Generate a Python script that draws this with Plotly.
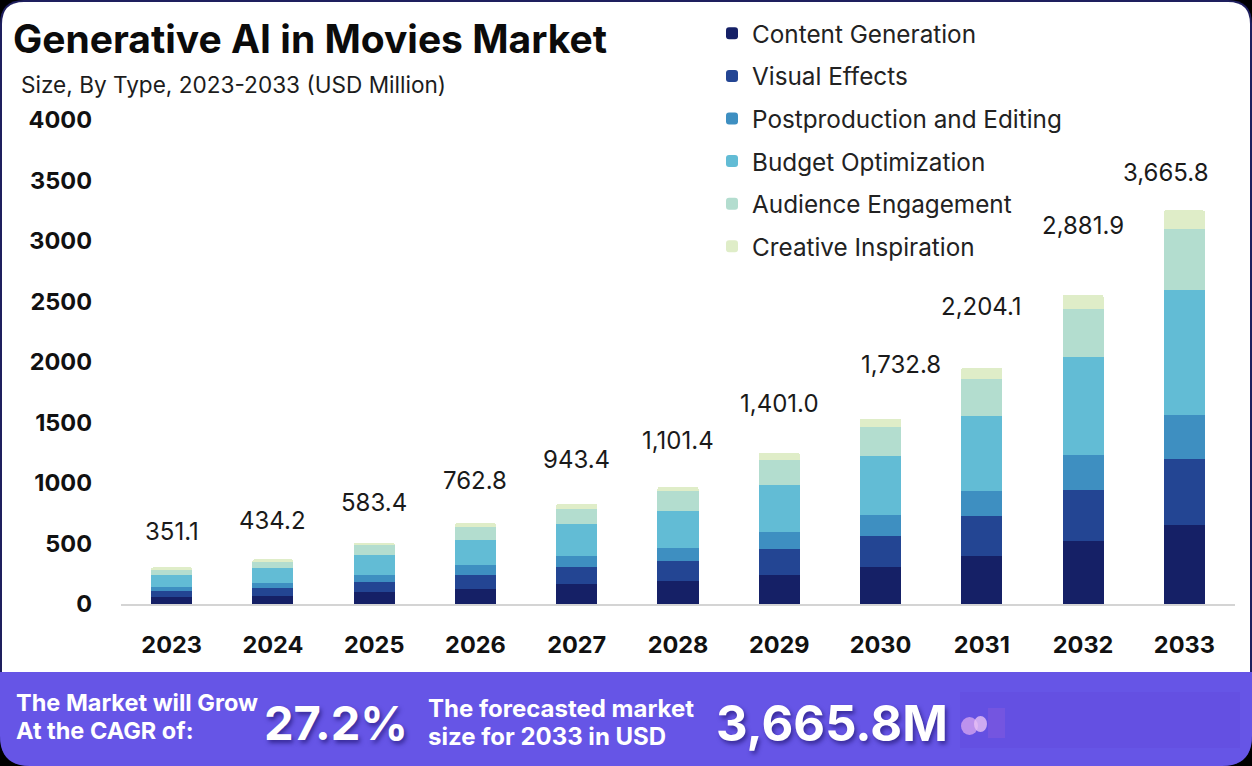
import plotly.graph_objects as go

W, H = 1252, 766
FONT = "Inter"

years = ["2023", "2024", "2025", "2026", "2027", "2028", "2029", "2030", "2031", "2032", "2033"]
content_generation = [55, 69, 102, 124, 167, 190, 240, 306, 394, 518, 656]
visual_effects = [55, 66, 83, 116, 138, 165, 215, 256, 331, 427, 543]
postproduction = [33, 41, 55, 83, 93, 107, 140, 174, 212, 289, 366]
budget_optimization = [96, 124, 165, 204, 261, 306, 388, 488, 620, 804, 1027]
audience_engagement = [50, 55, 83, 113, 129, 165, 207, 240, 303, 399, 507]
creative_inspiration = [14, 14, 19, 28, 38, 34, 58, 66, 91, 118, 154]
total_labels = ["351.1", "434.2", "583.4", "762.8", "943.4", "1,101.4", "1,401.0", "1,732.8", "2,204.1", "2,881.9", "3,665.8"]
label_heights = [603, 686, 835, 1017, 1198, 1355, 1653, 1983, 2455, 3132, 3570]
label_xshift = [0, 0, 0, 0, 0, 0, 0, 20, 0, 0, -18]

series = [
    ("Content Generation", content_generation, "#152066"),
    ("Visual Effects", visual_effects, "#234593"),
    ("Postproduction and Editing", postproduction, "#3E8FC1"),
    ("Budget Optimization", budget_optimization, "#62BCD5"),
    ("Audience Engagement", audience_engagement, "#B3DDCF"),
    ("Creative Inspiration", creative_inspiration, "#DFEDC8"),
]


def px(x):
    return x / W


def py(y):
    return 1 - y / H


def rounded(x0, y0, x1, y1, rt, rb):
    X0, X1 = px(x0), px(x1)
    Y0, Y1 = py(y0), py(y1)
    rx_t, ry_t = rt / W, rt / H
    rx_b, ry_b = rb / W, rb / H
    return (
        f"M{X0 + rx_t},{Y0} L{X1 - rx_t},{Y0} Q{X1},{Y0} {X1},{Y0 - ry_t} "
        f"L{X1},{Y1 + ry_b} Q{X1},{Y1} {X1 - rx_b},{Y1} "
        f"L{X0 + rx_b},{Y1} Q{X0},{Y1} {X0},{Y1 + ry_b} "
        f"L{X0},{Y0 - ry_t} Q{X0},{Y0} {X0 + rx_t},{Y0} Z"
    )


fig = go.Figure()
for name, values, color in series:
    fig.add_trace(go.Bar(x=years, y=values, name=name, legendgroup=name,
                         marker=dict(color=color, line=dict(width=0))))


def note(x, y, text, size, bold=False, color="#111111", anchor="left", shadow=None):
    font = dict(family=FONT, size=size, color=color, weight=700 if bold else 400)
    if shadow:
        font["shadow"] = shadow
    return dict(xref="paper", yref="paper", x=px(x), y=py(y), text=text, showarrow=False,
                xanchor=anchor, yanchor="middle", font=font)


annotations = [
    dict(x=i, y=h, xref="x", yref="y", text=t, showarrow=False, xshift=s,
         yanchor="middle", font=dict(family=FONT, size=24, color="#1a1a1a"))
    for i, (h, t, s) in enumerate(zip(label_heights, total_labels, label_xshift))
]
SH = "2px 3px 4px rgba(30,20,110,0.65)"
annotations += [
    note(11, 38, "Generative AI in Movies Market", 39, True, "#0b0b0b"),
    note(19, 84, "Size, By Type, 2023-2033 (USD Million)", 22.6, False, "#1c1c1c"),
    note(14, 702, "The Market will Grow", 23.5, True, "white"),
    note(14, 730, "At the CAGR of:", 23.5, True, "white"),
    note(262, 722, "27.2%", 47, True, "white", shadow=SH),
    note(426, 708, "The forecasted market", 24, True, "white"),
    note(426, 736, "size for 2033 in USD", 24, True, "white"),
    note(714, 723, "3,665.8M", 49, True, "white", shadow=SH),
]

P = dict(xref="paper", yref="paper", line_width=0, layer="below")
shapes = [
    dict(type="path", path=rounded(0, 0, W, H, 24, 30), fillcolor="#1E1F5E", **P),
    dict(type="path", path=rounded(2, 2, W - 2, 700, 22, 0), fillcolor="#FFFFFF", **P),
    dict(type="path", path=rounded(0, 672, W, H, 0, 30), fillcolor="#6655E6", **P),
    dict(type="rect", x0=px(960), x1=px(1240), y0=py(692), y1=py(748), fillcolor="#6450E2", **P),
    dict(type="circle", x0=px(961), x1=px(978), y0=py(717), y1=py(735), fillcolor="#D9A8F0", opacity=0.75, **P),
    dict(type="circle", x0=px(974), x1=px(987), y0=py(716), y1=py(732), fillcolor="#E8C2F5", opacity=0.8, **P),
    dict(type="rect", x0=px(988), x1=px(1005), y0=py(708), y1=py(738), fillcolor="#7A57E0", opacity=0.7, **P),
]

fig.update_layout(
    width=W, height=H, autosize=False,
    margin=dict(l=0, r=0, t=0, b=0, autoexpand=False),
    paper_bgcolor="#000000", plot_bgcolor="rgba(0,0,0,0)",
    barmode="stack", bargap=0.595, barcornerradius=2,
    shapes=shapes, annotations=annotations,
    legend=dict(x=px(712), y=py(11), xanchor="left", yanchor="top", bgcolor="rgba(0,0,0,0)",
                font=dict(family=FONT, size=24.3, color="#222222"),
                traceorder="grouped", tracegroupgap=8),
    xaxis=dict(domain=[px(121), px(1235)], range=[-0.5, 10.5], type="category",
               showgrid=False, zeroline=False, showline=True, linecolor="#D4D4D4", linewidth=2,
               ticks="", ticklabelstandoff=19,
               tickfont=dict(family=FONT, size=23.5, color="#111111", weight=700)),
    yaxis=dict(domain=[py(604), py(120)], range=[0, 4000], dtick=500, tickformat="d",
               showgrid=False, zeroline=False, showline=False,
               ticks="", ticklabelstandoff=28,
               tickfont=dict(family=FONT, size=23.5, color="#111111", weight=700)),
)

fig.write_html("out.html", config=dict(displayModeBar=False),
               post_script="document.body.style.margin='0';document.body.style.overflow='hidden';")
